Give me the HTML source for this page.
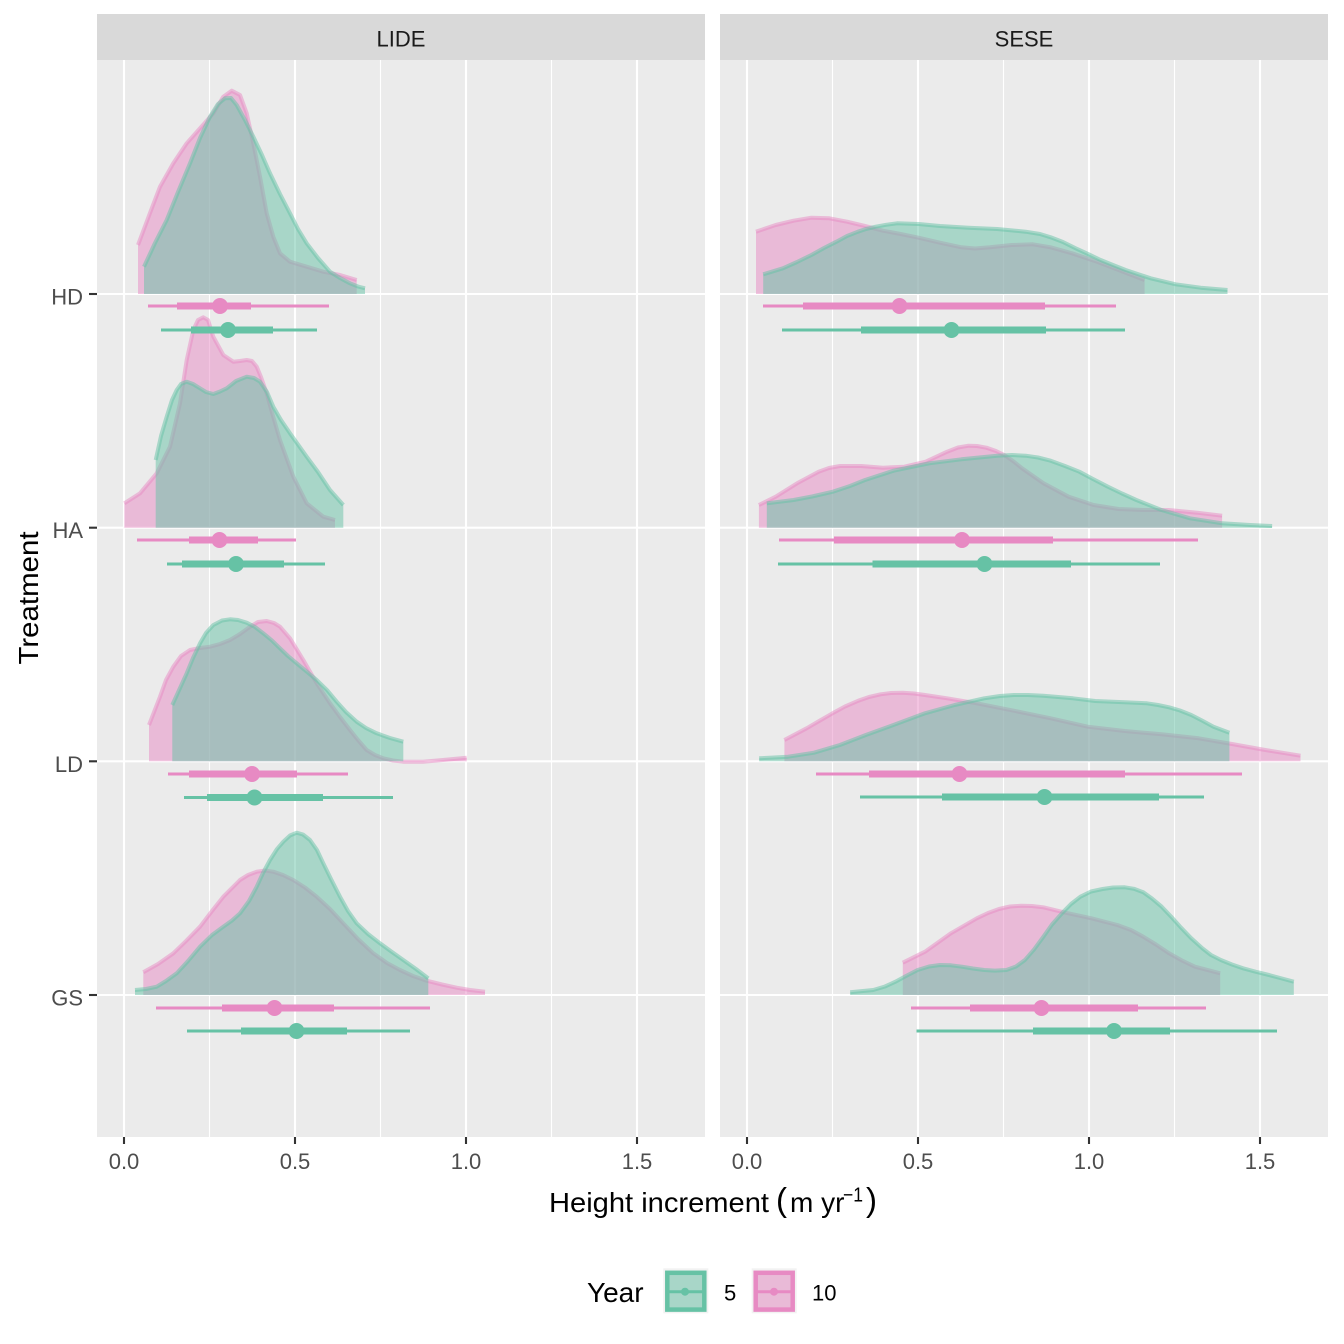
<!DOCTYPE html>
<html>
<head>
<meta charset="utf-8">
<style>
html,body{margin:0;padding:0;background:#ffffff;}
svg{display:block;}
text{font-family:"Liberation Sans",Arial,sans-serif;}
</style>
</head>
<body>
<svg width="1344" height="1344" viewBox="0 0 1344 1344" xmlns="http://www.w3.org/2000/svg">
<defs>
<clipPath id="cL"><rect x="97" y="60" width="608" height="1077"/></clipPath>
<clipPath id="cR"><rect x="720" y="60" width="608" height="1077"/></clipPath>
</defs>
<rect x="0" y="0" width="1344" height="1344" fill="#ffffff"/>

<!-- strips -->
<rect x="97" y="14" width="608" height="46" fill="#d9d9d9"/>
<rect x="720" y="14" width="608" height="46" fill="#d9d9d9"/>
<text x="401" y="46.5" font-size="22" fill="#1a1a1a" text-anchor="middle">LIDE</text>
<text x="1024" y="46.5" font-size="22" fill="#1a1a1a" text-anchor="middle">SESE</text>

<!-- panel backgrounds -->
<rect x="97" y="60" width="608" height="1077" fill="#ebebeb"/>
<rect x="720" y="60" width="608" height="1077" fill="#ebebeb"/>

<!-- LEFT PANEL -->
<g clip-path="url(#cL)">
  <g stroke="#ffffff" stroke-width="1.1">
    <line x1="209.5" y1="60" x2="209.5" y2="1137"/>
    <line x1="380.5" y1="60" x2="380.5" y2="1137"/>
    <line x1="551.5" y1="60" x2="551.5" y2="1137"/>
  </g>
  <g stroke="#ffffff" stroke-width="2.1">
    <line x1="124" y1="60" x2="124" y2="1137"/>
    <line x1="295" y1="60" x2="295" y2="1137"/>
    <line x1="466" y1="60" x2="466" y2="1137"/>
    <line x1="637" y1="60" x2="637" y2="1137"/>
    <line x1="97" y1="294" x2="705" y2="294"/>
    <line x1="97" y1="527.7" x2="705" y2="527.7"/>
    <line x1="97" y1="761.3" x2="705" y2="761.3"/>
    <line x1="97" y1="995" x2="705" y2="995"/>
  </g>

  <!-- HD -->
  <path d="M138,294 L138,245 150,213 160,186.7 173.3,163.3 186.7,143.3 200,128.3 213.3,113.3 223.3,96.7 231.7,90.7 240,95 246.7,113.3 253.3,143.3 260,176.7 266.7,213.3 273.3,236.7 280,253.3 290,261.7 306.7,266.7 323.3,271.7 340,275 356.7,280 L356.7,294 Z" fill="#e78ac3" fill-opacity="0.5"/>
  <path d="M138,245 150,213 160,186.7 173.3,163.3 186.7,143.3 200,128.3 213.3,113.3 223.3,96.7 231.7,90.7 240,95 246.7,113.3 253.3,143.3 260,176.7 266.7,213.3 273.3,236.7 280,253.3 290,261.7 306.7,266.7 323.3,271.7 340,275 356.7,280" fill="none" stroke="#e78ac3" stroke-opacity="0.5" stroke-width="4" stroke-linejoin="round"/>
  <path d="M144,294 L144,266.7 155,243 166.7,220 178,192 190,163.3 200,138 210,116.7 218,104 225,98.3 231,98 236.7,105 245,120 253.3,136.7 262,155 270,173.3 280,194 290,213.3 298,229 306.7,243.3 318,258 330,271.7 340,278 350,283.3 358,286.5 365,288.3 L365,294 Z" fill="#66c2a5" fill-opacity="0.5"/>
  <path d="M144,266.7 155,243 166.7,220 178,192 190,163.3 200,138 210,116.7 218,104 225,98.3 231,98 236.7,105 245,120 253.3,136.7 262,155 270,173.3 280,194 290,213.3 298,229 306.7,243.3 318,258 330,271.7 340,278 350,283.3 358,286.5 365,288.3" fill="none" stroke="#66c2a5" stroke-opacity="0.5" stroke-width="4" stroke-linejoin="round"/>

  <!-- HA -->
  <path d="M124.3,527.7 L124.3,503.3 140,493.3 156.7,473.3 170,446.7 180,403.3 186.7,360 193.3,330 198,320 203.3,317.3 208,320 213.3,336.7 223.3,355 233.3,361.7 240,361 246.7,360 252,361 256.7,366.7 261,377 266.7,393.3 273,416 280,440 293.3,476.7 306.7,503.3 323.3,516.7 335,520 L335,527.7 Z" fill="#e78ac3" fill-opacity="0.5"/>
  <path d="M124.3,503.3 140,493.3 156.7,473.3 170,446.7 180,403.3 186.7,360 193.3,330 198,320 203.3,317.3 208,320 213.3,336.7 223.3,355 233.3,361.7 240,361 246.7,360 252,361 256.7,366.7 261,377 266.7,393.3 273,416 280,440 293.3,476.7 306.7,503.3 323.3,516.7 335,520" fill="none" stroke="#e78ac3" stroke-opacity="0.5" stroke-width="4" stroke-linejoin="round"/>
  <path d="M155.7,527.7 L155.7,460 161,436 166.7,416.7 172,400 176.7,390 181,384 186.7,381.7 193,384 200,388.3 206,392 213.3,394 220,391.5 226.7,388.3 236,381 246.7,376.7 254,378 260,381.7 267,392 273.3,406.7 281,420 290,433.3 306.7,456.7 318,472 330,490 343.3,505 L343.3,527.7 Z" fill="#66c2a5" fill-opacity="0.5"/>
  <path d="M155.7,460 161,436 166.7,416.7 172,400 176.7,390 181,384 186.7,381.7 193,384 200,388.3 206,392 213.3,394 220,391.5 226.7,388.3 236,381 246.7,376.7 254,378 260,381.7 267,392 273.3,406.7 281,420 290,433.3 306.7,456.7 318,472 330,490 343.3,505" fill="none" stroke="#66c2a5" stroke-opacity="0.5" stroke-width="4" stroke-linejoin="round"/>

  <!-- LD -->
  <path d="M149,761.3 L149,725 160,696.7 166,680 173.3,666.7 181,656 190,650 200,648 210,646.7 220,644 230,640 240,634 250,626.7 258,622 266.7,621 274,623 280,626.7 290,638.3 303.3,660 316.7,683.3 330,703.3 340,717 350,730 358,740 366.7,750 375,755 383.3,758.3 393,760.5 403.3,761.7 423,761.7 443,760 466.7,757.7 L466.7,761.3 Z" fill="#e78ac3" fill-opacity="0.5"/>
  <path d="M149,725 160,696.7 166,680 173.3,666.7 181,656 190,650 200,648 210,646.7 220,644 230,640 240,634 250,626.7 258,622 266.7,621 274,623 280,626.7 290,638.3 303.3,660 316.7,683.3 330,703.3 340,717 350,730 358,740 366.7,750 375,755 383.3,758.3 393,760.5 403.3,761.7 423,761.7 443,760 466.7,757.7" fill="none" stroke="#e78ac3" stroke-opacity="0.5" stroke-width="4" stroke-linejoin="round"/>
  <path d="M172.3,761.3 L172.3,705 186.7,673.3 193,658 200,643.3 206,633 213.3,625 222,620.5 230,619.3 238,620 246.7,622.7 255,627 263.3,633.3 272,640.5 280,648.3 288,656 296.7,663.3 306,671 316.7,680 327,690 336.7,701.7 346,712 356.7,721.7 366,728 376.7,733.3 390,738 403.3,741.7 L403.3,761.3 Z" fill="#66c2a5" fill-opacity="0.5"/>
  <path d="M172.3,705 186.7,673.3 193,658 200,643.3 206,633 213.3,625 222,620.5 230,619.3 238,620 246.7,622.7 255,627 263.3,633.3 272,640.5 280,648.3 288,656 296.7,663.3 306,671 316.7,680 327,690 336.7,701.7 346,712 356.7,721.7 366,728 376.7,733.3 390,738 403.3,741.7" fill="none" stroke="#66c2a5" stroke-opacity="0.5" stroke-width="4" stroke-linejoin="round"/>

  <!-- GS -->
  <path d="M143.3,995 L143.3,972.3 158,964 173.3,953.3 186,941 200,926.7 212,911 223.3,896.7 232,888 240,880 248,875 256.7,871.7 265,870.5 273.3,871.7 283,875 293.3,880 305,887.5 316.7,896.7 330,909 343.3,923.3 358,939 373.3,953.3 387,963 400,970 413,976 426.7,980.7 442,984.5 456.7,987.7 470,990 485,991.7 L485,995 Z" fill="#e78ac3" fill-opacity="0.5"/>
  <path d="M143.3,972.3 158,964 173.3,953.3 186,941 200,926.7 212,911 223.3,896.7 232,888 240,880 248,875 256.7,871.7 265,870.5 273.3,871.7 283,875 293.3,880 305,887.5 316.7,896.7 330,909 343.3,923.3 358,939 373.3,953.3 387,963 400,970 413,976 426.7,980.7 442,984.5 456.7,987.7 470,990 485,991.7" fill="none" stroke="#e78ac3" stroke-opacity="0.5" stroke-width="4" stroke-linejoin="round"/>
  <path d="M135,995 L135,990 146,989 156.7,986.7 166,981 176.7,973.3 188,961 200,946.7 212,935 223.3,926.7 232,920.5 240,913.3 249,901 256.7,886.7 263,873 270,860 277,849 283.3,841.7 290,835.5 296.7,832.7 303,834.5 310,840 317,850 323.3,863.3 331,879 340,896.7 348,911 356.7,923.3 368,934 380,943.3 392,952 403.3,960 416,969 428.3,978.3 L428.3,995 Z" fill="#66c2a5" fill-opacity="0.5"/>
  <path d="M135,990 146,989 156.7,986.7 166,981 176.7,973.3 188,961 200,946.7 212,935 223.3,926.7 232,920.5 240,913.3 249,901 256.7,886.7 263,873 270,860 277,849 283.3,841.7 290,835.5 296.7,832.7 303,834.5 310,840 317,850 323.3,863.3 331,879 340,896.7 348,911 356.7,923.3 368,934 380,943.3 392,952 403.3,960 416,969 428.3,978.3" fill="none" stroke="#66c2a5" stroke-opacity="0.5" stroke-width="4" stroke-linejoin="round"/>

  <!-- intervals LIDE -->
  <g stroke="#e78ac3" fill="#e78ac3">
    <line x1="148" y1="306" x2="329" y2="306" stroke-width="3"/>
    <line x1="177" y1="306" x2="251" y2="306" stroke-width="7"/>
    <circle cx="220" cy="306" r="8" stroke="none"/>
    <line x1="137" y1="540" x2="296" y2="540" stroke-width="3"/>
    <line x1="189" y1="540" x2="258" y2="540" stroke-width="7"/>
    <circle cx="219.5" cy="540" r="8" stroke="none"/>
    <line x1="168" y1="774" x2="348" y2="774" stroke-width="3"/>
    <line x1="189" y1="774" x2="297" y2="774" stroke-width="7"/>
    <circle cx="252" cy="774" r="8" stroke="none"/>
    <line x1="156" y1="1008" x2="430" y2="1008" stroke-width="3"/>
    <line x1="222" y1="1008" x2="334" y2="1008" stroke-width="7"/>
    <circle cx="274.5" cy="1008" r="8" stroke="none"/>
  </g>
  <g stroke="#66c2a5" fill="#66c2a5">
    <line x1="161" y1="330" x2="317" y2="330" stroke-width="3"/>
    <line x1="191" y1="330" x2="273" y2="330" stroke-width="7"/>
    <circle cx="228" cy="330" r="8" stroke="none"/>
    <line x1="167" y1="564" x2="325" y2="564" stroke-width="3"/>
    <line x1="182" y1="564" x2="284" y2="564" stroke-width="7"/>
    <circle cx="236" cy="564" r="8" stroke="none"/>
    <line x1="184" y1="797.5" x2="393" y2="797.5" stroke-width="3"/>
    <line x1="207" y1="797.5" x2="323" y2="797.5" stroke-width="7"/>
    <circle cx="254.5" cy="797.5" r="8" stroke="none"/>
    <line x1="187" y1="1031" x2="410" y2="1031" stroke-width="3"/>
    <line x1="241" y1="1031" x2="347" y2="1031" stroke-width="7"/>
    <circle cx="296.5" cy="1031" r="8" stroke="none"/>
  </g>
</g>

<!-- RIGHT PANEL -->
<g clip-path="url(#cR)">
  <g stroke="#ffffff" stroke-width="1.1">
    <line x1="832.5" y1="60" x2="832.5" y2="1137"/>
    <line x1="1003.5" y1="60" x2="1003.5" y2="1137"/>
    <line x1="1174.5" y1="60" x2="1174.5" y2="1137"/>
  </g>
  <g stroke="#ffffff" stroke-width="2.1">
    <line x1="747" y1="60" x2="747" y2="1137"/>
    <line x1="918" y1="60" x2="918" y2="1137"/>
    <line x1="1089" y1="60" x2="1089" y2="1137"/>
    <line x1="1260" y1="60" x2="1260" y2="1137"/>
    <line x1="720" y1="294" x2="1328" y2="294"/>
    <line x1="720" y1="527.7" x2="1328" y2="527.7"/>
    <line x1="720" y1="761.3" x2="1328" y2="761.3"/>
    <line x1="720" y1="995" x2="1328" y2="995"/>
  </g>

  <!-- HD -->
  <path d="M756,294 L756,231.7 775.7,225 793.6,220.7 811.4,217.7 829.3,218.3 847.1,221.7 865,226 882.9,230.7 900.7,234 918.6,237.7 940,242.7 961.4,247.3 975,248.5 990,247.3 1011.4,245 1032.9,244.3 1050.7,247.3 1072.1,253.3 1097.1,261.7 1118.6,270 1144.6,280 L1144.6,294 Z" fill="#e78ac3" fill-opacity="0.5"/>
  <path d="M756,231.7 775.7,225 793.6,220.7 811.4,217.7 829.3,218.3 847.1,221.7 865,226 882.9,230.7 900.7,234 918.6,237.7 940,242.7 961.4,247.3 975,248.5 990,247.3 1011.4,245 1032.9,244.3 1050.7,247.3 1072.1,253.3 1097.1,261.7 1118.6,270 1144.6,280" fill="none" stroke="#e78ac3" stroke-opacity="0.5" stroke-width="4" stroke-linejoin="round"/>
  <path d="M763.2,294 L763.2,274.3 782.9,268.3 797,262 811.4,255 824,248 836.4,241.7 847,236 857.9,231.7 866,229 875.7,226.7 886,224.8 897.1,223.3 918.6,224 940,226 968.6,227.7 997.1,229 1025.7,231.7 1040,234 1050.7,237.3 1063,242 1075.7,248.3 1088,254 1100.7,260 1113,265 1125.7,270 1150.7,278.3 1175.7,284.3 1200.7,287.7 1227.5,290 L1227.5,294 Z" fill="#66c2a5" fill-opacity="0.5"/>
  <path d="M763.2,274.3 782.9,268.3 797,262 811.4,255 824,248 836.4,241.7 847,236 857.9,231.7 866,229 875.7,226.7 886,224.8 897.1,223.3 918.6,224 940,226 968.6,227.7 997.1,229 1025.7,231.7 1040,234 1050.7,237.3 1063,242 1075.7,248.3 1088,254 1100.7,260 1113,265 1125.7,270 1150.7,278.3 1175.7,284.3 1200.7,287.7 1227.5,290" fill="none" stroke="#66c2a5" stroke-opacity="0.5" stroke-width="4" stroke-linejoin="round"/>

  <!-- HA -->
  <path d="M758.9,527.7 L758.9,505 775.7,496.7 797.1,483.3 818.6,471.7 829,468 840,466 861.4,466 882.9,467.7 904.3,466.7 925.7,461.7 947.1,451.7 958,447.5 968.6,445.7 977,446 986.4,447.7 996,451 1004.3,455 1013,461 1022.1,468.3 1043.6,483.3 1068.6,496.7 1093.6,505 1118.6,509 1143.6,510 1168.6,510 1197.1,512.7 1222.1,515.7 L1222.1,527.7 Z" fill="#e78ac3" fill-opacity="0.5"/>
  <path d="M758.9,505 775.7,496.7 797.1,483.3 818.6,471.7 829,468 840,466 861.4,466 882.9,467.7 904.3,466.7 925.7,461.7 947.1,451.7 958,447.5 968.6,445.7 977,446 986.4,447.7 996,451 1004.3,455 1013,461 1022.1,468.3 1043.6,483.3 1068.6,496.7 1093.6,505 1118.6,509 1143.6,510 1168.6,510 1197.1,512.7 1222.1,515.7" fill="none" stroke="#e78ac3" stroke-opacity="0.5" stroke-width="4" stroke-linejoin="round"/>
  <path d="M766.8,527.7 L766.8,503.3 793.6,500 812,496.5 832.9,491.7 850,486 865,480 893.6,470.7 929.3,463.3 961.4,459.3 997.1,455.7 1012,455 1025.7,455.7 1038,457.5 1050.7,460.7 1065,466 1079.3,471.7 1093,479 1107.9,486.7 1122,493.5 1136.4,500 1161.4,510 1190,518.3 1222.1,523.3 1250,525 1272.1,526 L1272.1,527.7 Z" fill="#66c2a5" fill-opacity="0.5"/>
  <path d="M766.8,503.3 793.6,500 812,496.5 832.9,491.7 850,486 865,480 893.6,470.7 929.3,463.3 961.4,459.3 997.1,455.7 1012,455 1025.7,455.7 1038,457.5 1050.7,460.7 1065,466 1079.3,471.7 1093,479 1107.9,486.7 1122,493.5 1136.4,500 1161.4,510 1190,518.3 1222.1,523.3 1250,525 1272.1,526" fill="none" stroke="#66c2a5" stroke-opacity="0.5" stroke-width="4" stroke-linejoin="round"/>

  <!-- LD -->
  <path d="M784.4,761.3 L784.4,740 806.6,728.3 820,720.5 832.5,713.3 845,706.5 858.4,700.7 869,697 880.6,694.3 891,693 902.8,692.7 914,693.5 925,695 947.2,698.3 976.8,703.3 1013.8,710.7 1050.8,718.3 1087.8,726.7 1124.8,731 1161.7,734.3 1198.7,738.3 1232,744 1265.3,750 1300.5,755.7 L1300.5,761.3 Z" fill="#e78ac3" fill-opacity="0.5"/>
  <path d="M784.4,740 806.6,728.3 820,720.5 832.5,713.3 845,706.5 858.4,700.7 869,697 880.6,694.3 891,693 902.8,692.7 914,693.5 925,695 947.2,698.3 976.8,703.3 1013.8,710.7 1050.8,718.3 1087.8,726.7 1124.8,731 1161.7,734.3 1198.7,738.3 1232,744 1265.3,750 1300.5,755.7" fill="none" stroke="#e78ac3" stroke-opacity="0.5" stroke-width="4" stroke-linejoin="round"/>
  <path d="M759.2,761.3 L759.2,758.3 788.1,756.7 814,752.7 839.9,745 865.8,735 895.4,724.3 925,713.3 954.6,705 984.2,698.3 1000,696 1013.8,695 1028,695 1043.4,695.7 1073,698.3 1095.2,701 1124.8,702.3 1146.9,703.3 1158,705 1169.1,707.3 1180,710.5 1191.3,715 1202,720.5 1213.5,726.7 1229.4,732.7 L1229.4,761.3 Z" fill="#66c2a5" fill-opacity="0.5"/>
  <path d="M759.2,758.3 788.1,756.7 814,752.7 839.9,745 865.8,735 895.4,724.3 925,713.3 954.6,705 984.2,698.3 1000,696 1013.8,695 1028,695 1043.4,695.7 1073,698.3 1095.2,701 1124.8,702.3 1146.9,703.3 1158,705 1169.1,707.3 1180,710.5 1191.3,715 1202,720.5 1213.5,726.7 1229.4,732.7" fill="none" stroke="#66c2a5" stroke-opacity="0.5" stroke-width="4" stroke-linejoin="round"/>

  <!-- GS -->
  <path d="M902.8,995 L902.8,962.7 925,951.7 950.9,933.3 976.8,918.3 988,913 999,909 1010,906.5 1021.2,905.7 1032,906 1043.4,907.3 1065.6,912.7 1091.5,918.3 1117.4,925 1131,930 1143.3,936.7 1156,944.5 1169.1,953.3 1182,960.5 1195,966.7 1220.2,973.3 L1220.2,995 Z" fill="#e78ac3" fill-opacity="0.5"/>
  <path d="M902.8,962.7 925,951.7 950.9,933.3 976.8,918.3 988,913 999,909 1010,906.5 1021.2,905.7 1032,906 1043.4,907.3 1065.6,912.7 1091.5,918.3 1117.4,925 1131,930 1143.3,936.7 1156,944.5 1169.1,953.3 1182,960.5 1195,966.7 1220.2,973.3" fill="none" stroke="#e78ac3" stroke-opacity="0.5" stroke-width="4" stroke-linejoin="round"/>
  <path d="M850.2,995 L850.2,992.3 873.2,990 885,986.5 895.4,981.7 906,976 917.6,970 929,966.5 939.8,965 951,965.3 962,966.7 973,968.5 984.2,970 995,970.6 1006.4,970 1016,966.5 1024.9,960 1034,949.5 1043.4,936.7 1052,924.5 1061.9,913.3 1071,904 1080.4,896.7 1091,891.5 1102.6,889 1113,887.5 1124.8,887.3 1134,888.8 1143.3,892.3 1152,898.5 1161.7,906.7 1171,916.5 1180.2,926.7 1191,938 1202.4,948.3 1211,955 1220.9,960 1232,964.5 1243.1,968.3 1256,971.8 1269,975 1282,978.5 1293.8,981.7 L1293.8,995 Z" fill="#66c2a5" fill-opacity="0.5"/>
  <path d="M850.2,992.3 873.2,990 885,986.5 895.4,981.7 906,976 917.6,970 929,966.5 939.8,965 951,965.3 962,966.7 973,968.5 984.2,970 995,970.6 1006.4,970 1016,966.5 1024.9,960 1034,949.5 1043.4,936.7 1052,924.5 1061.9,913.3 1071,904 1080.4,896.7 1091,891.5 1102.6,889 1113,887.5 1124.8,887.3 1134,888.8 1143.3,892.3 1152,898.5 1161.7,906.7 1171,916.5 1180.2,926.7 1191,938 1202.4,948.3 1211,955 1220.9,960 1232,964.5 1243.1,968.3 1256,971.8 1269,975 1282,978.5 1293.8,981.7" fill="none" stroke="#66c2a5" stroke-opacity="0.5" stroke-width="4" stroke-linejoin="round"/>

  <!-- intervals SESE -->
  <g stroke="#e78ac3" fill="#e78ac3">
    <line x1="763" y1="306" x2="1116" y2="306" stroke-width="3"/>
    <line x1="803" y1="306" x2="1045" y2="306" stroke-width="7"/>
    <circle cx="899.5" cy="306" r="8" stroke="none"/>
    <line x1="779" y1="540" x2="1198" y2="540" stroke-width="3"/>
    <line x1="834" y1="540" x2="1053" y2="540" stroke-width="7"/>
    <circle cx="962" cy="540" r="8" stroke="none"/>
    <line x1="816" y1="774" x2="1242" y2="774" stroke-width="3"/>
    <line x1="869" y1="774" x2="1125" y2="774" stroke-width="7"/>
    <circle cx="959.5" cy="774" r="8" stroke="none"/>
    <line x1="911" y1="1008" x2="1206" y2="1008" stroke-width="3"/>
    <line x1="970" y1="1008" x2="1138" y2="1008" stroke-width="7"/>
    <circle cx="1041.5" cy="1008" r="8" stroke="none"/>
  </g>
  <g stroke="#66c2a5" fill="#66c2a5">
    <line x1="782" y1="330" x2="1125" y2="330" stroke-width="3"/>
    <line x1="861" y1="330" x2="1046" y2="330" stroke-width="7"/>
    <circle cx="951.5" cy="330" r="8" stroke="none"/>
    <line x1="778" y1="564" x2="1160" y2="564" stroke-width="3"/>
    <line x1="872.5" y1="564" x2="1071" y2="564" stroke-width="7"/>
    <circle cx="984.5" cy="564" r="8" stroke="none"/>
    <line x1="860" y1="797" x2="1204" y2="797" stroke-width="3"/>
    <line x1="942" y1="797" x2="1159" y2="797" stroke-width="7"/>
    <circle cx="1044.5" cy="797" r="8" stroke="none"/>
    <line x1="916.5" y1="1031" x2="1277" y2="1031" stroke-width="3"/>
    <line x1="1033" y1="1031" x2="1170" y2="1031" stroke-width="7"/>
    <circle cx="1114" cy="1031" r="8" stroke="none"/>
  </g>
</g>

<!-- y axis ticks and labels -->
<g stroke="#333333" stroke-width="2.1">
  <line x1="89" y1="294" x2="97" y2="294"/>
  <line x1="89" y1="527.7" x2="97" y2="527.7"/>
  <line x1="89" y1="761.3" x2="97" y2="761.3"/>
  <line x1="89" y1="995" x2="97" y2="995"/>
</g>
<g font-size="22" fill="#4d4d4d" text-anchor="end">
  <text x="83" y="304.5">HD</text>
  <text x="83" y="538.2">HA</text>
  <text x="83" y="771.8">LD</text>
  <text x="83" y="1005.5">GS</text>
</g>

<!-- x axis ticks and labels -->
<g stroke="#333333" stroke-width="2.1">
  <line x1="124" y1="1137" x2="124" y2="1144"/>
  <line x1="295" y1="1137" x2="295" y2="1144"/>
  <line x1="466" y1="1137" x2="466" y2="1144"/>
  <line x1="637" y1="1137" x2="637" y2="1144"/>
  <line x1="747" y1="1137" x2="747" y2="1144"/>
  <line x1="918" y1="1137" x2="918" y2="1144"/>
  <line x1="1089" y1="1137" x2="1089" y2="1144"/>
  <line x1="1260" y1="1137" x2="1260" y2="1144"/>
</g>
<g font-size="22" fill="#4d4d4d" text-anchor="middle">
  <text x="124" y="1169">0.0</text>
  <text x="295" y="1169">0.5</text>
  <text x="466" y="1169">1.0</text>
  <text x="637" y="1169">1.5</text>
  <text x="747" y="1169">0.0</text>
  <text x="918" y="1169">0.5</text>
  <text x="1089" y="1169">1.0</text>
  <text x="1260" y="1169">1.5</text>
</g>

<!-- axis titles -->
<text x="549" y="1212" font-size="28" fill="#000000" textLength="220" lengthAdjust="spacingAndGlyphs">Height increment</text>
<text x="776" y="1211" font-size="33" fill="#000000">(</text>
<text x="790" y="1212" font-size="28" fill="#000000">m yr</text>
<text x="843" y="1201.5" font-size="20" fill="#000000" textLength="20" lengthAdjust="spacingAndGlyphs">−1</text>
<text x="866" y="1211" font-size="33" fill="#000000">)</text>

<text transform="translate(38,598) rotate(-90)" font-size="28" fill="#000000" text-anchor="middle" textLength="133" lengthAdjust="spacingAndGlyphs">Treatment</text>

<!-- legend -->
<text x="587" y="1302" font-size="28" fill="#000000">Year</text>
<rect x="663.3" y="1268.3" width="45" height="45" fill="#f2f2f2"/>
<rect x="667.3" y="1272.8" width="37" height="36.8" fill="#a8d6c8" stroke="#66c2a5" stroke-width="4.5"/>
<line x1="669" y1="1291.7" x2="703" y2="1291.7" stroke="#66c2a5" stroke-width="3"/>
<circle cx="685" cy="1291.7" r="4" fill="#66c2a5"/>
<text x="724" y="1300.5" font-size="22" fill="#000000">5</text>

<rect x="751.7" y="1268.3" width="45" height="45" fill="#f2f2f2"/>
<rect x="755.7" y="1272.8" width="37" height="36.8" fill="#e9bad7" stroke="#e78ac3" stroke-width="4.5"/>
<line x1="757.5" y1="1291.7" x2="791" y2="1291.7" stroke="#e78ac3" stroke-width="3"/>
<circle cx="774" cy="1291.7" r="4" fill="#e78ac3"/>
<text x="812" y="1300.5" font-size="22" fill="#000000">10</text>
</svg>
</body>
</html>
